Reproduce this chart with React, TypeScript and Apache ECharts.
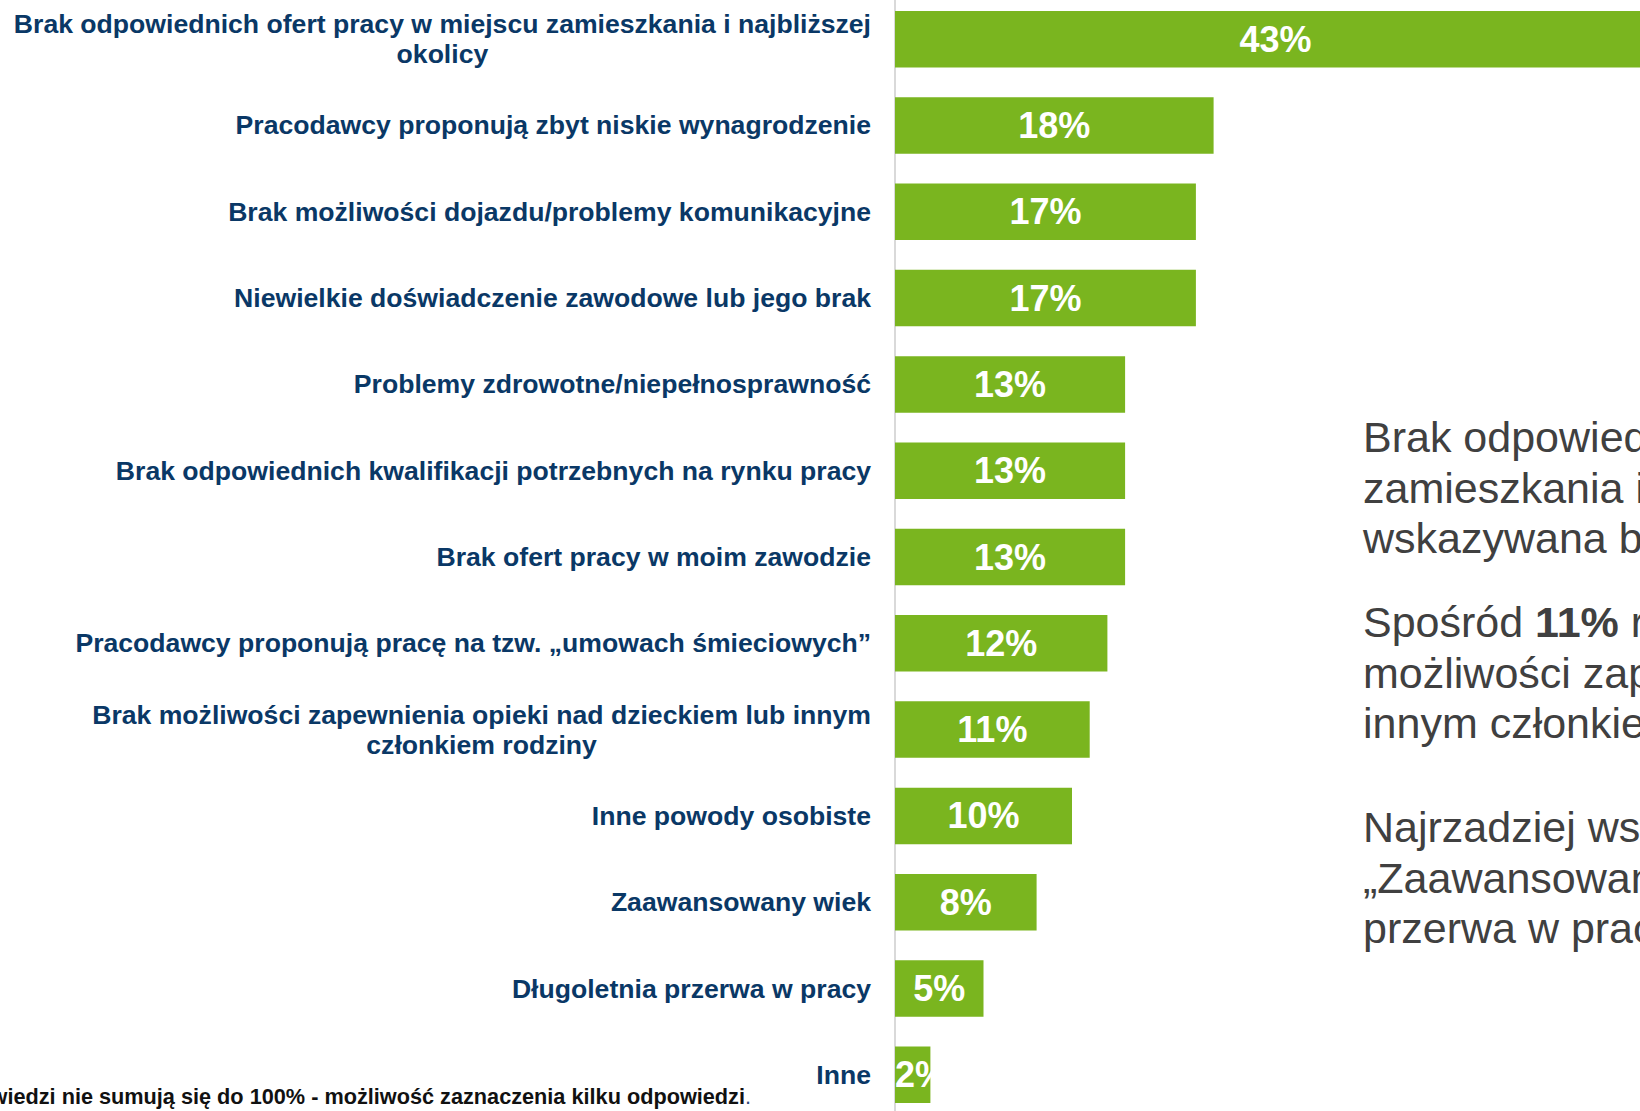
import React, { useEffect, useRef } from "react";
import * as echarts from "echarts";

const categories: string[] = [
  "Brak odpowiednich ofert pracy w miejscu zamieszkania i najbliższej\nokolicy",
  "Pracodawcy proponują zbyt niskie wynagrodzenie",
  "Brak możliwości dojazdu/problemy komunikacyjne",
  "Niewielkie doświadczenie zawodowe lub jego brak",
  "Problemy zdrowotne/niepełnosprawność",
  "Brak odpowiednich kwalifikacji potrzebnych na rynku pracy",
  "Brak ofert pracy w moim zawodzie",
  "Pracodawcy proponują pracę na tzw. „umowach śmieciowych”",
  "Brak możliwości zapewnienia opieki nad dzieckiem lub innym\nczłonkiem rodziny",
  "Inne powody osobiste",
  "Zaawansowany wiek",
  "Długoletnia przerwa w pracy",
  "Inne",
];

const values: number[] = [43, 18, 17, 17, 13, 13, 13, 12, 11, 10, 8, 5, 2];

const para1: string[] = [
  "Brak odpowiednich ofert pracy w miejscu",
  "zamieszkania i najbliższej okolicy to przyczyna",
  "wskazywana bezrobotnych najczęściej.",
];
const para2: string[] = [
  "Spośród {b|11%} respondentów wskazujących brak",
  "możliwości zapewnienia opieki nad dzieckiem lub",
  "innym członkiem rodziny",
];
const para3: string[] = [
  "Najrzadziej wskazywano",
  "„Zaawansowany wiek” oraz „Długoletnia",
  "przerwa w pracy”.",
];
const footnote = "*Odpowiedzi nie sumują się do 100% - możliwość zaznaczenia kilku odpowiedzi";

const FONT = "'Liberation Sans', Arial, sans-serif";
const NAVY = "#0a3866";
const GREEN = "#7ab51f";

// chart div is shifted up by OFF px inside a clipping wrapper
const OFF = 4;

export default function App() {
  const ref = useRef<HTMLDivElement>(null);

  useEffect(() => {
    if (!ref.current) return;
    const chart = echarts.init(ref.current, undefined, { renderer: "svg" });

    const paraText = (lines: string[], baseline0: number) =>
      lines.map((t, i) => ({
        type: "text",
        x: 1363,
        y: baseline0 + i * 50.5 - 15 + OFF,
        style: {
          text: t,
          fontFamily: FONT,
          fontSize: 43,
          fill: "#404040",
          align: "left",
          verticalAlign: "middle",
          rich: {
            b: { fontFamily: FONT, fontSize: 43, fontWeight: "bold", fill: "#404040" },
          },
        },
      }));

    const option: any = {
      animation: false,
      backgroundColor: "#ffffff",
      grid: { left: 895, right: 0, top: 0, bottom: 0, containLabel: false },
      xAxis: {
        type: "value",
        min: 0,
        max: 50,
        show: false,
        splitLine: { show: false },
      },
      yAxis: {
        type: "category",
        data: categories,
        inverse: true,
        axisTick: { show: false },
        axisLine: { show: true, lineStyle: { color: "#d9d9d9", width: 2 } },
        axisLabel: {
          margin: 24,
          align: "right",
          formatter: (v: string) =>
            v
              .split("\n")
              .map((l) => `{c|${l}}`)
              .join("\n"),
          rich: {
            c: {
              fontFamily: FONT,
              fontSize: 26.6,
              fontWeight: "bold",
              color: NAVY,
              lineHeight: 30,
              align: "center",
            },
          },
        },
      },
      series: [
        {
          type: "bar",
          barWidth: 56.5,
          data: values.map((v, i) =>
            i === values.length - 1
              ? { value: v, label: { position: "insideLeft", distance: 0 } }
              : v
          ),
          itemStyle: { color: GREEN },
          label: {
            show: true,
            position: "inside",
            formatter: "{c}%",
            color: "#ffffff",
            fontFamily: FONT,
            fontWeight: "bold",
            fontSize: 36,
          },
        },
      ],
      graphic: [
        ...paraText(para1, 452),
        ...paraText(para2, 637),
        ...paraText(para3, 842),
        {
          type: "text",
          x: 751,
          y: 1096 + OFF,
          style: {
            text: `{a|${footnote}}{p|.}`,
            align: "right",
            verticalAlign: "middle",
            rich: {
              a: { fontFamily: FONT, fontSize: 21.7, fontWeight: "bold", fill: "#111111" },
              p: { fontFamily: FONT, fontSize: 21.7, fill: "#2f4a7a" },
            },
          },
        },
      ],
    };

    chart.setOption(option);
    return () => chart.dispose();
  }, []);

  return (
    <div
      style={{
        position: "fixed",
        left: 0,
        top: 0,
        width: 1640,
        height: 1111,
        overflow: "hidden",
        background: "#fff",
      }}
    >
      <div
        ref={ref}
        style={{ position: "absolute", left: 0, top: -OFF, width: 1780, height: 1122 }}
      />
    </div>
  );
}
